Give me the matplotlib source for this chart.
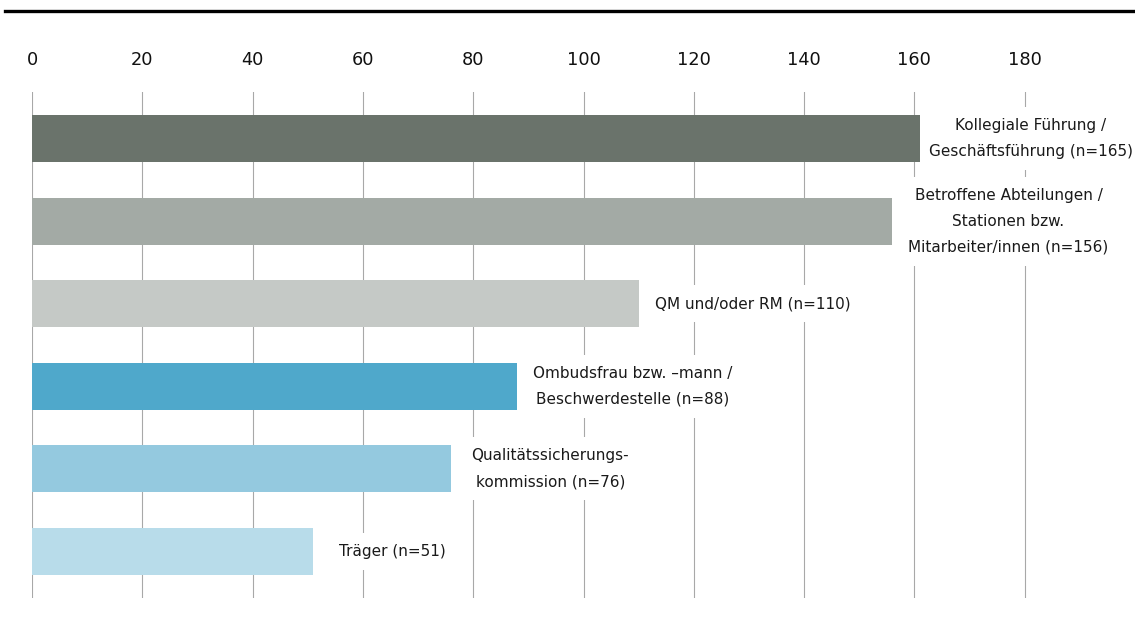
import matplotlib
matplotlib.use("Agg")
import matplotlib.pyplot as plt
from matplotlib.lines import Line2D

categories = [
    "Kollegiale Führung /\nGeschäftsführung (n=165)",
    "Betroffene Abteilungen /\nStationen bzw.\nMitarbeiter/innen (n=156)",
    "QM und/oder RM (n=110)",
    "Ombudsfrau bzw. –mann /\nBeschwerdestelle (n=88)",
    "Qualitätssicherungs-\nkommission (n=76)",
    "Träger (n=51)",
]
values = [161, 156, 110, 88, 76, 51]
colors = ["#6a736b", "#a3aaa5", "#c5c9c6", "#4fa8cb", "#94c9df", "#b8dcea"]
xticks = [0, 20, 40, 60, 80, 100, 120, 140, 160, 180]

W, H = 1135, 620
fig = plt.figure(figsize=(W / 100, H / 100), dpi=100)
plt.rcParams['font.family'] = ['DejaVu Sans']

left_px, right_px, top_px, bot_px = 32, 1135, 92, 598
ax = fig.add_axes([left_px / W, 1 - bot_px / H, (right_px - left_px) / W, (bot_px - top_px) / H])

ypos = list(range(len(values)))
ax.barh(ypos, values, height=0.57, color=colors, zorder=3)
ax.set_ylim(len(values) - 1 + 0.563, -0.563)
ax.set_xlim(0, 200)

for s in ax.spines.values():
    s.set_visible(False)
ax.set_yticks([])
ax.xaxis.tick_top()
ax.set_xticks(xticks)
ax.set_xticklabels([str(t) for t in xticks], fontsize=12.8, color="#111111")
ax.tick_params(axis='x', length=0, pad=16.5)
for t in xticks:
    ax.axvline(t, color="#a8a8a8", lw=0.8, zorder=1)

# top black rule
fig.add_artist(Line2D([5 / W, 1.0], [1 - 11 / H, 1 - 11 / H], color="black", lw=2.4,
                      transform=fig.transFigure))

texts = []
for y, v, lab in zip(ypos, values, categories):
    t = ax.text(v, y, lab, ha='left', va='center', multialignment='center',
                fontsize=11, linespacing=1.9, color="#1a1a1a", zorder=2,
                bbox=dict(facecolor='white', edgecolor='none', pad=8))
    texts.append(t)

fig.canvas.draw()
r = fig.canvas.get_renderer()
inv = ax.transData.inverted()
for t, v, y in zip(texts, values, ypos):
    ext = t.get_window_extent(renderer=r)
    w = ext.width
    end_px = ax.transData.transform((v, y))[0]
    lx = end_px + 36 - 0.1 * w
    if lx + w > W - 2:
        lx = W - 2 - w
    xd = inv.transform((lx, 0))[0]
    t.set_x(xd)

fig.savefig("out.png", dpi=100, facecolor="white")
